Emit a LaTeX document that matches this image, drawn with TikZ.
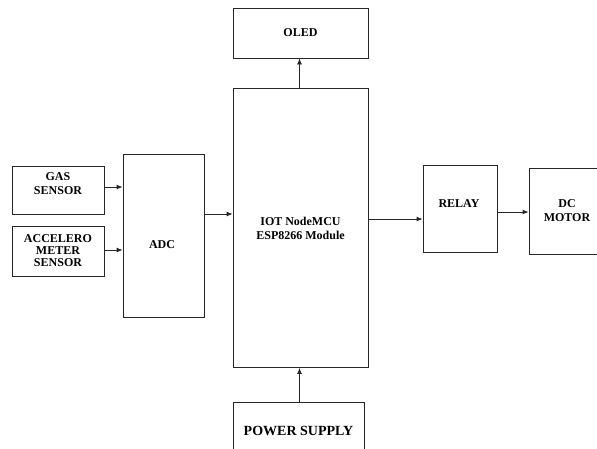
\documentclass[tikz,border=0pt]{standalone}
\usepackage{fontspec}
\setmainfont{Liberation Serif}
\usetikzlibrary{arrows.meta,positioning}

\begin{document}
\begin{tikzpicture}[x=1pt,y=-1pt,
    txt/.style={inner sep=0pt,align=center,font=\bfseries\fontsize{12}{12}\selectfont},
    blk/.style={txt,draw=black!85,line width=0.8pt},
    arr/.style={draw=black!85,line width=0.8pt,-{Latex[length=6pt,width=5pt]}}]
    % picture frame 597 x 448
    \useasboundingbox (0,0) rectangle (597,448);

    % blocks
    \node[blk,minimum width=135pt,minimum height=279pt] (mcu) at (300.5,228)
        {IOT NodeMCU\\[2pt]ESP8266 Module};
    \node[blk,minimum width=135pt,minimum height=50pt] (oled) at (300.5,33) {OLED};
    \node[blk,minimum width=131pt,minimum height=58pt,
        font=\bfseries\fontsize{14}{14}\selectfont] (power) at (298.5,431) {POWER SUPPLY};
    \node[blk,minimum width=81pt,minimum height=163pt] (adc) at (163.5,235.5) {};
    \node[txt] (adctxt) at (162,245) {ADC};
    \node[blk,minimum width=92pt,minimum height=48pt] (gas) at (58,190) {};
    \node[txt] (gastxt) at (58,184) {GAS\\[2pt]SENSOR};
    \node[blk,minimum width=92pt,minimum height=50pt] (acc) at (58,251)
        {ACCELERO\\METER\\SENSOR};
    \node[blk,minimum width=74pt,minimum height=87pt] (relay) at (460,208.5) {};
    \node[txt] (relaytxt) at (459,204) {RELAY};
    \node[blk,minimum width=76pt,minimum height=86pt] (dc) at (567,211)
        {DC\\[2pt]MOTOR};

    % connections
    \draw[arr] ([yshift=3pt]gas.east) -- ([yshift=3pt]gas.east -| adc.west);
    \draw[arr] ([yshift=1pt]acc.east) -- ([yshift=1pt]acc.east -| adc.west);
    \draw[arr] ([yshift=21.5pt]adc.east) -- ([yshift=21.5pt]adc.east -| mcu.west);
    \draw[arr] ([yshift=9pt]mcu.east) -- ([yshift=9pt]mcu.east -| relay.west);
    \draw[arr] ([yshift=-3.5pt]relay.east) -- ([yshift=-3.5pt]relay.east -| dc.west);
    \draw[arr] ([xshift=-1pt]mcu.north) -- ([xshift=-1pt]oled.south);
    \draw[arr] ([xshift=1pt]power.north) -- ([xshift=1pt]power.north |- mcu.south);
\end{tikzpicture}
\end{document}
